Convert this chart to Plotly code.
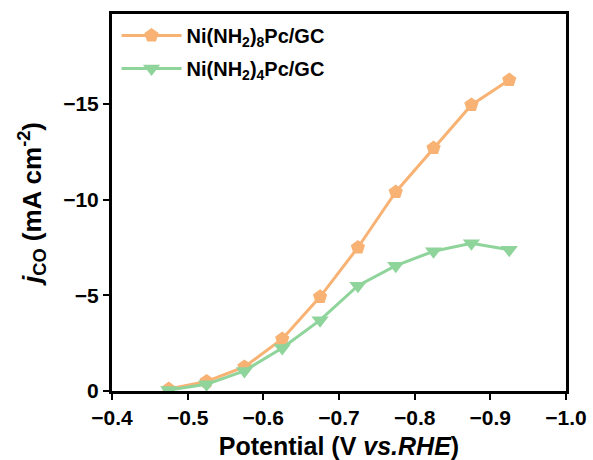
import plotly.graph_objects as go

potential = [-0.475, -0.525, -0.575, -0.625, -0.675, -0.725, -0.775, -0.825, -0.875, -0.925]
j_nh2_8 = [-0.1, -0.5, -1.26, -2.72, -4.92, -7.5, -10.4, -12.7, -14.95, -16.25]
j_nh2_4 = [-0.05, -0.35, -1.05, -2.25, -3.7, -5.5, -6.55, -7.3, -7.72, -7.38]

x_ticks = [-0.4, -0.5, -0.6, -0.7, -0.8, -0.9, -1.0]
x_tick_text = ["\u22120.4", "\u22120.5", "\u22120.6", "\u22120.7", "\u22120.8", "\u22120.9", "\u22121.0"]
y_ticks = [0, -5, -10, -15]
y_tick_text = ["0", "\u22125", "\u221210", "\u221215"]

orange = "#F8B273"
green = "#8ED49B"

fig = go.Figure()
fig.add_trace(go.Scatter(
    x=potential, y=j_nh2_8, mode="lines+markers",
    name="<b>Ni(NH<sub>2</sub>)<sub>8</sub>Pc/GC</b>", legendgroup="a",
    line=dict(color=orange, width=3),
    marker=dict(symbol="pentagon", size=15, color=orange),
))
fig.add_trace(go.Scatter(
    x=potential, y=j_nh2_4, mode="lines+markers",
    name="<b>Ni(NH<sub>2</sub>)<sub>4</sub>Pc/GC</b>", legendgroup="b",
    line=dict(color=green, width=3),
    marker=dict(symbol="triangle-down", size=15, color=green),
))

axis_common = dict(
    showline=True, linecolor="black", linewidth=3, mirror=True,
    ticks="outside", ticklen=6, tickwidth=2, tickcolor="black",
    showgrid=False, zeroline=False, automargin=False,
    tickfont=dict(family="Liberation Sans, Arial", size=21, color="black", weight="bold"),
)

fig.update_xaxes(
    range=[-0.4, -1.0], tickvals=x_ticks, ticktext=["<b>%s</b>" % t for t in x_tick_text],
    title=dict(text="<b>Potential (V <i>vs.RHE</i>)</b>",
               font=dict(family="Liberation Sans, Arial", size=25, color="black")),
    **axis_common,
)
fig.update_yaxes(
    range=[0, -19.7], tickvals=y_ticks, ticktext=["<b>%s</b>" % t for t in y_tick_text],
    title=dict(text="<b><i>j</i><sub>CO</sub> (mA cm<sup>-2</sup>)</b>",
               font=dict(family="Liberation Sans, Arial", size=26, color="black")),
    **axis_common,
)

fig.update_layout(
    width=593, height=460,
    margin=dict(l=112, r=27, t=14, b=69),
    plot_bgcolor="white", paper_bgcolor="white",
    showlegend=True,
    legend=dict(
        x=0.01, y=0.995, xanchor="left", yanchor="top",
        bgcolor="rgba(0,0,0,0)", borderwidth=0,
        font=dict(family="Liberation Sans, Arial", size=20, color="black"),
        itemwidth=60, tracegroupgap=4, traceorder="grouped",
    ),
)

fig.write_html("out.html", config={"displayModeBar": False},
               post_script="document.body.style.margin='0px';")
